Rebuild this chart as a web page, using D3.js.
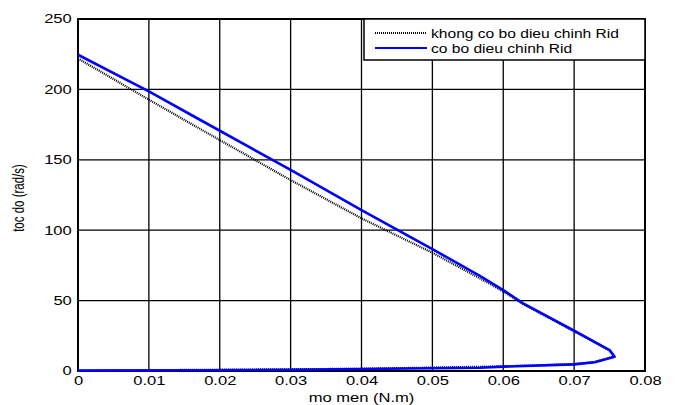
<!DOCTYPE html>
<html>
<head>
<meta charset="utf-8">
<script src="https://cdn.jsdelivr.net/npm/d3@7"></script>
<style>
  body { margin: 0; background: #fff; }
  text { font-family: "Liberation Sans", Arial, sans-serif; }
</style>
</head>
<body>
<script>
const W = 677, H = 405;

// torque (N.m) / speed (rad/s)
const xTicks = [0, 0.01, 0.02, 0.03, 0.04, 0.05, 0.06, 0.07, 0.08];
const yTicks = [0, 50, 100, 150, 200, 250];

const noCtrlX = [0, 0.01, 0.02, 0.03, 0.04, 0.05, 0.0567, 0.06, 0.0628, 0.07, 0.075, 0.0756, 0.0729, 0.07, 0.06, 0.04, 0.02, 0];
const noCtrlY = [222, 192.7, 164, 135.6, 108.4, 84, 65.8, 56.5, 47.5, 28.3, 14.6, 10.2, 6.4, 4.9, 3.3, 1.6, 0.9, 0.3];

const ctrlX = [0, 0.01, 0.0165, 0.03, 0.04, 0.05, 0.0567, 0.06, 0.0628, 0.07, 0.075, 0.0757, 0.0729, 0.07, 0.06, 0.0567, 0.04, 0.03, 0.017, 0];
const ctrlY = [224.6, 198.6, 180.4, 142.8, 114.3, 86.6, 67.5, 57.5, 48, 28.6, 14.9, 10.2, 6.2, 4.7, 3.1, 2.3, 1.4, 0.9, 0.5, 0.3];

const legendLabels = ["khong co bo dieu chinh Rid", "co bo dieu chinh Rid"];

const m = {left: 78, right: 32, top: 19, bottom: 34};
const stretch = 1.38; // the original picture is a bit wider than tall

const svg = d3.select("body").append("svg")
  .attr("width", W).attr("height", H);

const x = d3.scaleLinear().domain([0, 0.08]).range([m.left, W - m.right]);
const y = d3.scaleLinear().domain([0, 250]).range([H - m.bottom, m.top]);

// grid
svg.append("g")
  .selectAll("line")
  .data(xTicks)
  .join("line")
    .attr("x1", d => x(d)).attr("x2", d => x(d))
    .attr("y1", y(0)).attr("y2", y(250))
    .attr("stroke", "#000").attr("stroke-width", 1.3);
svg.append("g")
  .selectAll("line")
  .data(yTicks)
  .join("line")
    .attr("x1", x(0)).attr("x2", x(0.08))
    .attr("y1", d => y(d)).attr("y2", d => y(d))
    .attr("stroke", "#000").attr("stroke-width", 1.3);

// axes (labels only; ticks hidden by the grid)
svg.append("g")
  .attr("transform", `translate(0,${y(0)})`)
  .call(d3.axisBottom(x).tickValues(xTicks).tickSize(0).tickPadding(5)
    .tickFormat(d => d === 0 ? "0" : d3.format(".2f")(d)))
  .call(g => g.select(".domain").remove())
  .selectAll("text")
    .attr("font-size", 12).attr("fill", "#000")
    .attr("transform", `scale(${stretch},1)`)
    .style("font-family", "Liberation Sans, Arial, sans-serif");

svg.append("g")
  .attr("transform", `translate(${x(0)},0)`)
  .call(d3.axisLeft(y).tickValues(yTicks).tickSize(0).tickPadding(4.5))
  .call(g => g.select(".domain").remove())
  .selectAll("text")
    .attr("font-size", 12).attr("fill", "#000")
    .attr("transform", `scale(${stretch},1)`)
    .style("font-family", "Liberation Sans, Arial, sans-serif");

// frame
svg.append("rect")
  .attr("x", x(0)).attr("y", y(250))
  .attr("width", x(0.08) - x(0)).attr("height", y(0) - y(250))
  .attr("fill", "none").attr("stroke", "#000").attr("stroke-width", 2);

const line = d3.line().x(d => x(d[0])).y(d => y(d[1]));

svg.append("path")
  .datum(d3.zip(noCtrlX, noCtrlY))
  .attr("d", line)
  .attr("fill", "none").attr("stroke", "#000")
  .attr("stroke-width", 2.2).attr("stroke-dasharray", "1,1");

svg.append("path")
  .datum(d3.zip(ctrlX, ctrlY))
  .attr("d", line)
  .attr("fill", "none").attr("stroke", "#0000ff")
  .attr("stroke-width", 2.6).attr("stroke-linejoin", "round");

// legend
const lg = svg.append("g");
lg.append("rect")
  .attr("x", 364).attr("y", y(250))
  .attr("width", x(0.08) - 364).attr("height", 41)
  .attr("fill", "#fff").attr("stroke", "#000").attr("stroke-width", 1.5);
const styles = [{c: "#000", dash: "1,1", w: 2}, {c: "#0000ff", dash: null, w: 2}];
legendLabels.forEach((t, i) => {
  const yy = 33 + i * 15;
  lg.append("line")
    .attr("x1", 375).attr("x2", 427).attr("y1", yy).attr("y2", yy)
    .attr("stroke", styles[i].c).attr("stroke-width", styles[i].w)
    .attr("stroke-dasharray", styles[i].dash);
  lg.append("text")
    .attr("transform", `translate(431,${yy + 4.5}) scale(1.2,1)`)
    .attr("font-size", 13).text(t);
});

// axis titles
svg.append("text")
  .attr("transform", `translate(${(x(0) + x(0.08)) / 2},402) scale(${stretch},1)`)
  .attr("text-anchor", "middle").attr("font-size", 12)
  .text("mo men (N.m)");
svg.append("text")
  .attr("transform", `translate(24,198) scale(${stretch},1) rotate(-90)`)
  .attr("text-anchor", "middle").attr("font-size", 11.5)
  .text("toc do (rad/s)");
</script>
</body>
</html>
